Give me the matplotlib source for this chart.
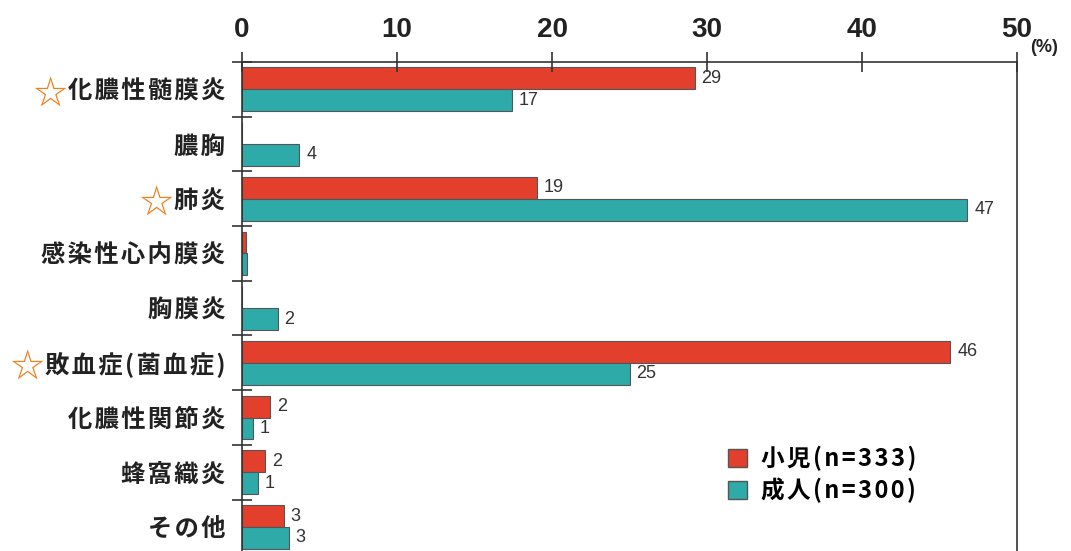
import matplotlib
matplotlib.use("Agg")
import matplotlib.pyplot as plt
import matplotlib.patches as mpatches
import numpy as np

plt.rcParams['font.family'] = ['Noto Sans CJK JP', 'DejaVu Sans']

# data
categories = ["化膿性髄膜炎", "膿胸", "肺炎", "感染性心内膜炎", "胸膜炎",
              "敗血症(菌血症)", "化膿性関節炎", "蜂窩織炎", "その他"]
starred = [True, False, True, False, False, True, False, False, False]
child = [29.2, 0, 19.0, 0.25, 0, 45.7, 1.8, 1.5, 2.7]
adult = [17.4, 3.7, 46.8, 0.35, 2.3, 25.0, 0.7, 1.0, 3.0]
child_labels = ["29", "", "19", "", "", "46", "2", "2", "3"]
adult_labels = ["17", "4", "47", "", "2", "25", "1", "1", "3"]
legend_labels = ["小児(n=333)", "成人(n=300)"]
xticks = [0, 10, 20, 30, 40, 50]

red = "#e2402c"
teal = "#2eaaa8"
edge = "#555555"


def spaced(s):
    # hair spaces between characters, like the wide lettering of the original
    return "\u200a".join(s)


fig = plt.figure(figsize=(10.71, 5.51), dpi=100)
ax = fig.add_axes([242 / 1071, -0.006, (1017 - 242) / 1071, 0.8875 + 0.006])

y = np.arange(len(categories))
h = 0.40
ax.barh(y - 0.2, child, height=h, color=red, edgecolor=edge, linewidth=0.8)
ax.barh(y + 0.2, adult, height=h, color=teal, edgecolor=edge, linewidth=0.8)

num_font = ["Liberation Sans", "DejaVu Sans"]
for yi, v, s in zip(y, child, child_labels):
    if s:
        ax.annotate(s, (v, yi - 0.2), xytext=(5, 0), textcoords="offset points",
                    va="center", ha="left", fontsize=13, color="#333333",
                    family=num_font)
for yi, v, s in zip(y, adult, adult_labels):
    if s:
        ax.annotate(s, (v, yi + 0.2), xytext=(5, 0), textcoords="offset points",
                    va="center", ha="left", fontsize=13, color="#333333",
                    family=num_font)

ax.set_xlim(0, 50)
ax.set_ylim(len(categories) - 0.5, -0.5)

# x axis on top
ax.xaxis.tick_top()
ax.set_xticks(xticks)
ax.set_xticklabels([str(t) for t in xticks], fontsize=20, fontweight="bold",
                   family=num_font, color="#222222")
ax.tick_params(axis="x", direction="inout", length=14, width=1.2, pad=7,
               color="#333333")

# y ticks: marks at category boundaries, labels at centers
ax.set_yticks(np.arange(len(categories) + 1) - 0.5)
ax.set_yticklabels([])
ax.tick_params(axis="y", which="major", direction="inout", length=15, width=1.2,
               color="#333333")
ax.set_yticks(y, minor=True)
ax.set_yticklabels([spaced(c) for c in categories], minor=True, fontsize=17.5,
                   fontweight="bold", color="#222222")
ax.tick_params(axis="y", which="minor", length=0, pad=12)

for side in ["top", "left", "right"]:
    ax.spines[side].set_linewidth(1.2)
    ax.spines[side].set_color("#333333")
ax.spines["bottom"].set_visible(False)

fig.text(1030 / 1071, 1 - 47 / 551, "(%)", fontsize=13, fontweight="bold",
         family=num_font, va="center", color="#222222")

# stars before some labels
fig.canvas.draw()
renderer = fig.canvas.get_renderer()
for lab, s in zip(ax.get_yticklabels(minor=True), starred):
    if s:
        bb = lab.get_window_extent(renderer)
        fig.text(bb.x0 - 1, (bb.y0 + bb.y1) / 2 - 2, "☆", transform=None,
                 ha="right", va="center", fontsize=24, color="#f07f1e")

handles = [mpatches.Patch(facecolor=red, edgecolor=edge, label=spaced(legend_labels[0])),
           mpatches.Patch(facecolor=teal, edgecolor=edge, label=spaced(legend_labels[1]))]
fig.legend(handles=handles, loc="upper left",
           bbox_to_anchor=(707 / 1071, 1 - 425 / 551), frameon=False,
           prop={"size": 17, "weight": "bold"}, handlelength=0.8,
           handleheight=0.8, handletextpad=0.6, labelspacing=0.25)

fig.savefig("out.png", dpi=100)
